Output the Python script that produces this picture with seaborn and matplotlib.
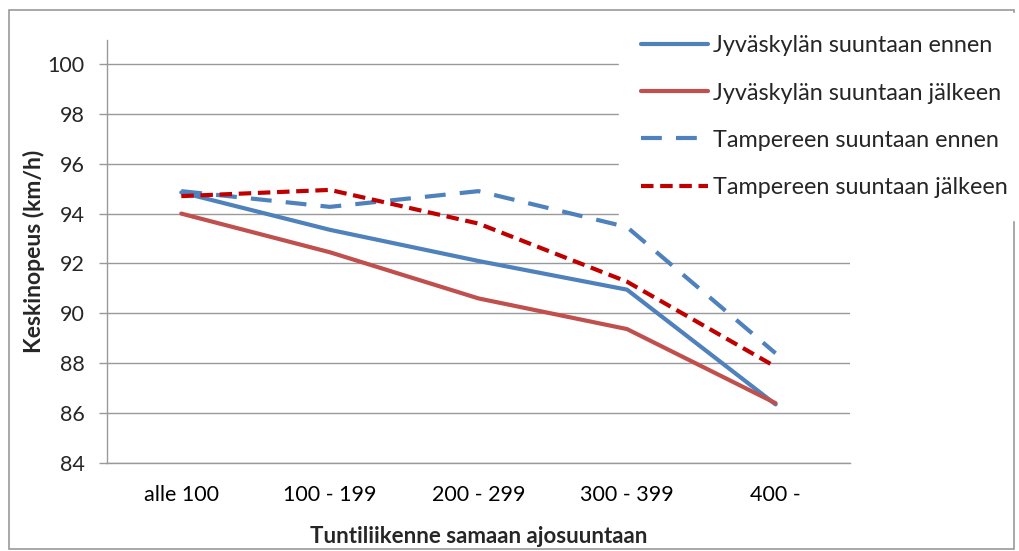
import matplotlib
matplotlib.use("Agg")
import matplotlib.pyplot as plt
import seaborn as sns
import pandas as pd
from matplotlib.patches import Rectangle

categories = ["alle 100", "100 - 199", "200 - 299", "300 - 399", "400 -"]
jkl_ennen = [94.85, 93.35, 92.1, 90.95, 86.35]
jkl_jalkeen = [94.0, 92.45, 90.6, 89.37, 86.4]
tre_ennen = [94.9, 94.27, 94.9, 93.46, 88.4]
tre_jalkeen = [94.7, 94.95, 93.6, 91.27, 87.86]

series_names = ["Jyväskylän suuntaan ennen", "Jyväskylän suuntaan jälkeen",
                "Tampereen suuntaan ennen", "Tampereen suuntaan jälkeen"]
series_values = [jkl_ennen, jkl_jalkeen, tre_ennen, tre_jalkeen]

sns.set_style("white")
plt.rcParams['font.family'] = ['Lato', 'DejaVu Sans']

rows = []
for name, vals in zip(series_names, series_values):
    for i, (c, v) in enumerate(zip(categories, vals)):
        rows.append({"pos": i, "cat": c, "val": v, "series": name})
df = pd.DataFrame(rows)

fig = plt.figure(figsize=(10.19, 5.51), dpi=100)
ax = fig.add_axes([0.105, 0.1597, 0.729, 0.7677])

colors = ["#4F81BD", "#C0504D", "#4F81BD", "#C00000"]
dashes = [None, None, (5, 3.4), (3, 1.6)]
lw = 3.0
for name, col, d in zip(series_names, colors, dashes):
    sub = df[df["series"] == name]
    sns.lineplot(data=sub, x="pos", y="val", ax=ax, color=col, linewidth=lw,
                 label=name, legend=False)
    line = ax.lines[-1]
    if d is not None:
        line.set_dashes(d)
        line.set_dash_capstyle("butt")

ax.set_xlim(-0.5, 4.5)
ax.set_ylim(84, 100.96)
ax.set_yticks(range(84, 101, 2))
ax.set_xticks(range(len(categories)))
ax.set_xticklabels(categories)
ax.set_xticks([i - 0.5 for i in range(len(categories) + 1)], minor=True)
ax.tick_params(axis="x", which="major", length=0, labelsize=15.5, pad=16, colors="black")
ax.tick_params(axis="x", which="minor", length=6, width=1, color="#999999", direction="out")
ax.tick_params(axis="y", which="major", length=6, width=1, color="#999999", direction="out",
               left=True, labelsize=15.5, pad=10)
ax.yaxis.grid(True, color="#999999", linewidth=1)
ax.set_axisbelow(True)
for s in ["top", "right"]:
    ax.spines[s].set_visible(False)
for s in ["left", "bottom"]:
    ax.spines[s].set_color("#999999")
    ax.spines[s].set_linewidth(1)

ax.set_xlabel("Tuntiliikenne samaan ajosuuntaan", fontsize=16, fontweight="bold", labelpad=15)
ax.set_ylabel("Keskinopeus (km/h)", fontsize=16.5, fontweight="bold", labelpad=2)

handles = ax.lines[:4]
leg = fig.legend(handles, series_names, loc="upper left", bbox_to_anchor=(0.6075, 0.976),
                 bbox_transform=fig.transFigure, frameon=True, fontsize=16.8,
                 handlelength=2.87, handletextpad=0.22, labelspacing=1.12,
                 borderpad=0.95, borderaxespad=0, fancybox=False)
leg.get_frame().set_facecolor("white")
leg.get_frame().set_edgecolor("white")
leg.get_frame().set_alpha(1)

fig.patches.append(Rectangle((0.009, 0.004), 0.986, 0.978, transform=fig.transFigure,
                             fill=False, edgecolor="#999999", linewidth=1.2))

fig.savefig("out.png", dpi=100)
